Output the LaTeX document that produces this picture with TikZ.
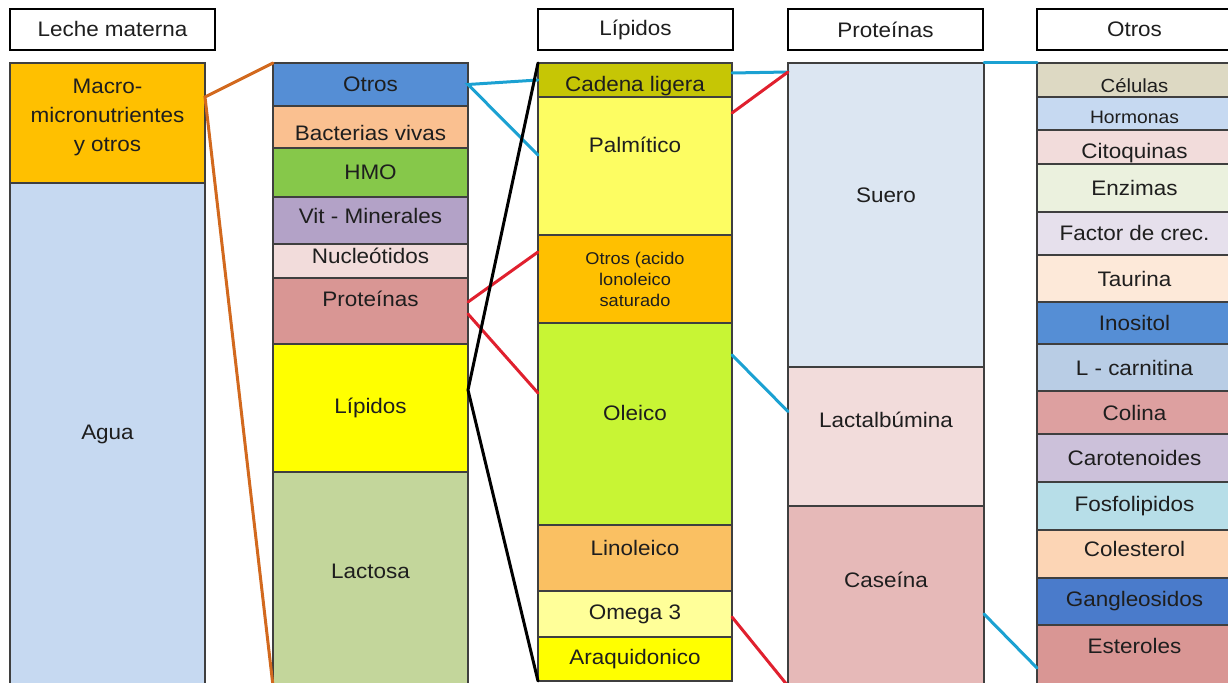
\documentclass[tikz,border=0pt]{standalone}
\usepackage{fontspec}
\setmainfont[FakeStretch=1.07]{Liberation Sans}
\usetikzlibrary{positioning,calc}
\definecolor{cellline}{HTML}{3F3F3F}
\definecolor{txtdark}{HTML}{1E1E1E}
\definecolor{lnorange}{HTML}{D2691E}
\definecolor{lncyan}{HTML}{1BA1D2}
\definecolor{lnred}{HTML}{E0202E}
\definecolor{cmacro}{HTML}{FFC000}
\definecolor{cagua}{HTML}{C6D9F1}
\definecolor{cotros}{HTML}{558ED5}
\definecolor{cbact}{HTML}{FAC090}
\definecolor{chmo}{HTML}{86C84A}
\definecolor{cvit}{HTML}{B3A2C7}
\definecolor{cnucl}{HTML}{F2DCDB}
\definecolor{cprot}{HTML}{D99694}
\definecolor{clip}{HTML}{FFFF00}
\definecolor{clact}{HTML}{C3D69B}
\definecolor{ccadena}{HTML}{C6C605}
\definecolor{cpalm}{HTML}{FDFD62}
\definecolor{coleico}{HTML}{C8F534}
\definecolor{clinol}{HTML}{FAC062}
\definecolor{comega}{HTML}{FFFF99}
\definecolor{csuero}{HTML}{DCE6F2}
\definecolor{clactalb}{HTML}{F2DCDB}
\definecolor{ccaseina}{HTML}{E6B9B8}
\definecolor{ccel}{HTML}{DDD9C3}
\definecolor{chorm}{HTML}{C6D9F1}
\definecolor{ccito}{HTML}{F2DCDB}
\definecolor{cenz}{HTML}{EBF1DE}
\definecolor{cfact}{HTML}{E6E0EC}
\definecolor{ctaur}{HTML}{FDE9D9}
\definecolor{cinos}{HTML}{558ED5}
\definecolor{clcarn}{HTML}{B9CDE5}
\definecolor{ccolina}{HTML}{DDA0A0}
\definecolor{ccarot}{HTML}{CCC1DA}
\definecolor{cfosfo}{HTML}{B7DEE8}
\definecolor{ccolest}{HTML}{FCD5B5}
\definecolor{cgangl}{HTML}{4A7BCB}
\definecolor{cester}{HTML}{D99694}
\tikzset{
    every node/.style={font=\fontsize{10.5}{12}\selectfont},
    head/.style={rectangle,draw=black,line width=0.7pt,fill=white,minimum height=20.5pt,minimum width=97.5pt,inner sep=1pt,outer sep=0pt,text=txtdark},
    cell/.style={rectangle,draw=cellline,line width=0.6pt,minimum width=97.5pt,inner xsep=1pt,inner ysep=0pt,outer sep=0pt,align=center,text=txtdark},
    smalltxt/.style={font=\fontsize{9}{10}\selectfont},
    tinytxt/.style={font=\fontsize{8.5}{10.5}\selectfont},
    lift/.style={text depth=#1},
    drop/.style={text height=#1},
    link/.style={line width=1.5pt,line cap=round}
}
\begin{document}
\begin{tikzpicture}[x=0.5pt,y=-0.5pt]
\useasboundingbox (0,0) rectangle (1228,683);
% headers
\node[head,minimum width=102.5pt,anchor=north west] (hleche) at (10,9) {Leche materna};
\node[head,anchor=north west] (hlip) at (538,9) {Lípidos};
\node[head,anchor=north west] (hprot) at (788,9) {Proteínas};
\node[head,anchor=north west] (hotros) at (1037,9) {Otros};
% leche materna
\node[cell,fill=cmacro,minimum height=60pt,font=\fontsize{10.5}{14.5}\selectfont,lift=8pt,anchor=north west] (macro) at (10,63) {Macro-\\micronutrientes\\y otros};
\node[cell,fill=cagua,minimum height=251pt,below=0pt of macro] (agua) {Agua};
% macro-micronutrientes
\node[cell,fill=cotros,minimum height=21.5pt,anchor=north west] (otros2) at (273,63) {Otros};
\node[cell,fill=cbact,minimum height=21pt,drop=13.6pt,below=0pt of otros2] (bact) {Bacterias vivas};
\node[cell,fill=chmo,minimum height=24.5pt,below=0pt of bact] (hmo) {HMO};
\node[cell,fill=cvit,minimum height=23.5pt,lift=5pt,below=0pt of hmo] (vit) {Vit - Minerales};
\node[cell,fill=cnucl,minimum height=17pt,lift=5pt,below=0pt of vit] (nucl) {Nucleótidos};
\node[cell,fill=cprot,minimum height=33pt,lift=12pt,below=0pt of nucl] (prot) {Proteínas};
\node[cell,fill=clip,minimum height=64pt,below=0pt of prot] (lip) {Lípidos};
\node[cell,fill=clact,minimum height=107pt,lift=8pt,below=0pt of lip] (lact) {Lactosa};
% lipidos
\node[cell,fill=ccadena,minimum width=97pt,minimum height=17pt,drop=13.6pt,anchor=north west] (cadena) at (538,63) {Cadena ligera};
\node[cell,fill=cpalm,minimum width=97pt,minimum height=69pt,lift=21pt,below=0pt of cadena] (palm) {Palmítico};
\node[cell,fill=cmacro,minimum width=97pt,minimum height=44pt,tinytxt,below=0pt of palm] (otrosac) {Otros (acido\\lonoleico\\saturado};
\node[cell,fill=coleico,minimum width=97pt,minimum height=101pt,lift=11pt,below=0pt of otrosac] (oleico) {Oleico};
\node[cell,fill=clinol,minimum width=97pt,minimum height=33pt,lift=10pt,below=0pt of oleico] (linol) {Linoleico};
\node[cell,fill=comega,minimum width=97pt,minimum height=23pt,below=0pt of linol] (omega) {Omega 3};
\node[cell,fill=clip,minimum width=97pt,minimum height=22pt,below=0pt of omega] (araq) {Araquidonico};
% proteinas
\node[cell,fill=csuero,minimum width=98pt,minimum height=152pt,lift=20pt,anchor=north west] (suero) at (788,63) {Suero};
\node[cell,fill=clactalb,minimum width=98pt,minimum height=69.5pt,lift=17pt,below=0pt of suero] (lactalb) {Lactalbúmina};
\node[cell,fill=ccaseina,minimum width=98pt,minimum height=90pt,lift=16pt,below=0pt of lactalb] (caseina) {Caseína};
% otros
\node[cell,fill=ccel,minimum height=17pt,font=\fontsize{9.5}{11}\selectfont,drop=12.5pt,anchor=north west] (celulas) at (1037,63) {Células};
\node[cell,fill=chorm,minimum height=16.5pt,smalltxt,drop=10.5pt,below=0pt of celulas] (horm) {Hormonas};
\node[cell,fill=ccito,minimum height=17pt,drop=13.6pt,below=0pt of horm] (cito) {Citoquinas};
\node[cell,fill=cenz,minimum height=24pt,below=0pt of cito] (enz) {Enzimas};
\node[cell,fill=cfact,minimum height=21.5pt,below=0pt of enz] (fact) {Factor de crec.};
\node[cell,fill=ctaur,minimum height=23.5pt,below=0pt of fact] (taur) {Taurina};
\node[cell,fill=cinos,minimum height=21pt,below=0pt of taur] (inos) {Inositol};
\node[cell,fill=clcarn,minimum height=23.5pt,below=0pt of inos] (lcarn) {L - carnitina};
\node[cell,fill=ccolina,minimum height=21.5pt,below=0pt of lcarn] (colina) {Colina};
\node[cell,fill=ccarot,minimum height=24pt,below=0pt of colina] (carot) {Carotenoides};
\node[cell,fill=cfosfo,minimum height=24pt,below=0pt of carot] (fosfo) {Fosfolipidos};
\node[cell,fill=ccolest,minimum height=24pt,lift=5pt,below=0pt of fosfo] (colest) {Colesterol};
\node[cell,fill=cgangl,minimum height=23.5pt,below=0pt of colest] (gangl) {Gangleosidos};
\node[cell,fill=cester,minimum height=30pt,lift=9pt,below=0pt of gangl] (ester) {Esteroles};
% connectors
\draw[link,lnorange] (otros2.north west) -- ($(macro.north east)+(0,34)$) -- (lact.south west);
\draw[link,lncyan] (cadena.west) -- (otros2.east) -- ($(palm.west)+(0,-11)$);
\draw[link,lnred] ($(otrosac.west)+(0,-27)$) -- ($(prot.east)+(0,-9)$);
\draw[link,lnred] ($(prot.east)+(0,3)$) -- ($(oleico.west)+(0,-31)$);
\draw[link,black] (cadena.north west) -- ($(lip.east)+(0,-18)$) -- (araq.south west);
\draw[link,lncyan] ($(cadena.east)+(0,-7)$) -- ($(suero.north west)+(0,9)$);
\draw[link,lnred] ($(palm.north east)+(0,16)$) -- ($(suero.north west)+(0,9)$);
\draw[link,lncyan] ($(oleico.north east)+(0,32)$) -- ($(lactalb.west)+(0,-25)$);
\draw[link,lnred] ($(omega.east)+(0,3)$) -- (caseina.south west);
\draw[link,lncyan] (suero.north east) -- (celulas.north west);
\draw[link,lncyan] ($(caseina.east)+(0,18)$) -- ($(ester.west)+(0,13)$);
\end{tikzpicture}
\end{document}
